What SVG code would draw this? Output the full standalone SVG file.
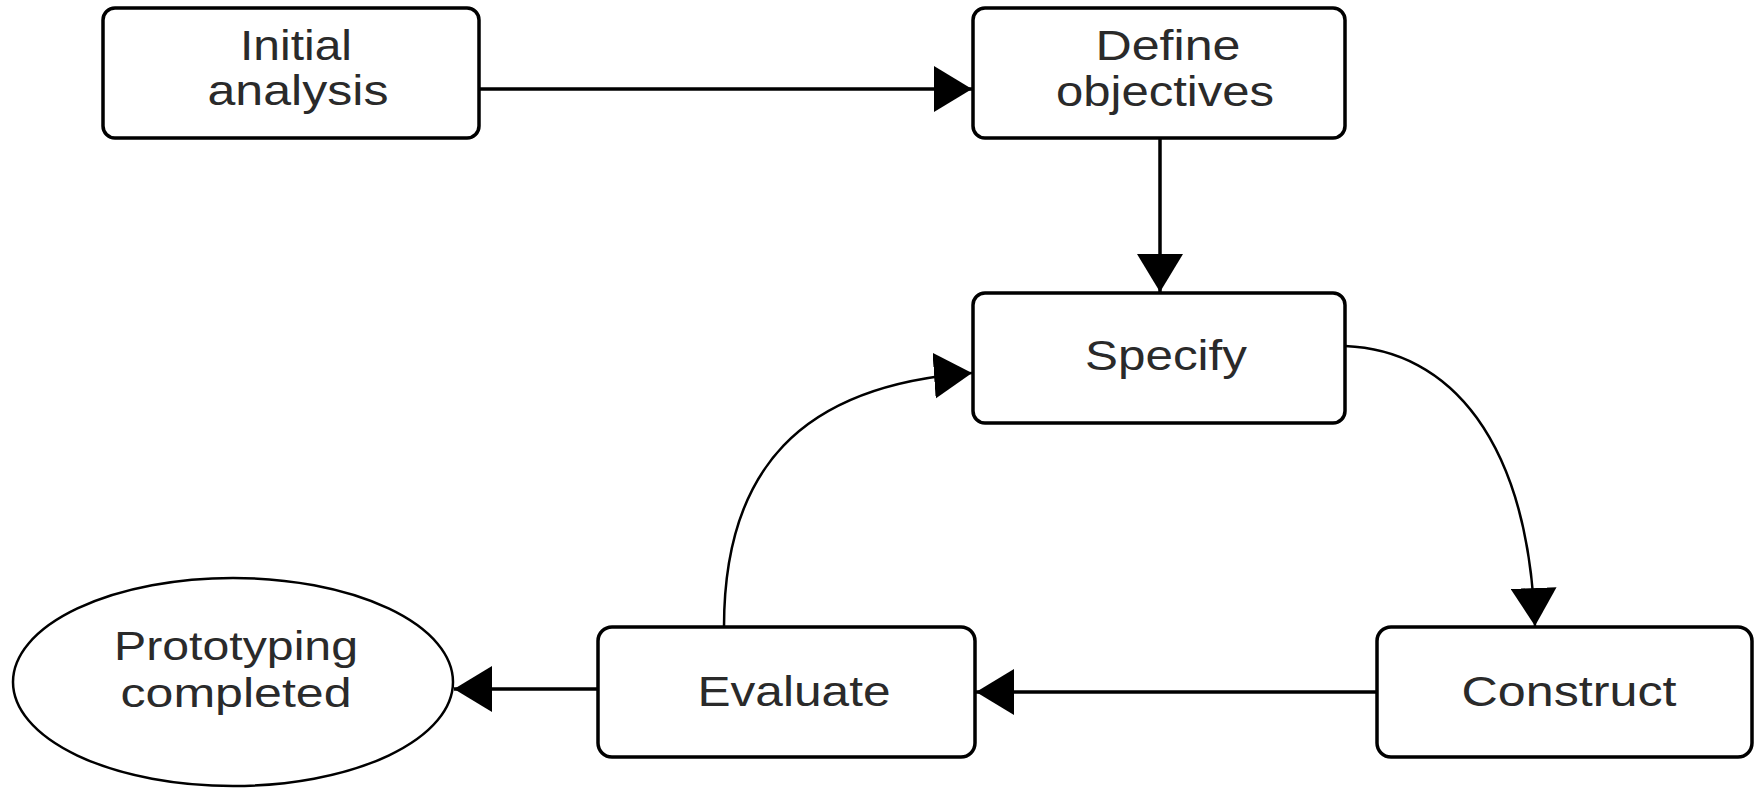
<svg xmlns="http://www.w3.org/2000/svg" width="1755" height="788" viewBox="0 0 1755 788">
  <style>
    .box { fill: #ffffff; stroke: #000000; stroke-width: 3.5; }
    .oval { fill: #ffffff; stroke: #000000; stroke-width: 2.5; }
    .lbl { font-family: "Liberation Sans", Arial, sans-serif; font-size: 42px; fill: #2a2a2a; text-anchor: middle; }
    .small { font-size: 40px; }
    .edge { fill: none; stroke: #000000; stroke-width: 3.5; }
    .curve { fill: none; stroke: #000000; stroke-width: 2.5; }
  </style>
  <defs>
    <marker id="head" markerUnits="userSpaceOnUse" markerWidth="40" markerHeight="46" viewBox="0 0 40 46" refX="38" refY="23" orient="auto">
      <path d="M0,0 L38,23 L0,46 Z" fill="#000000"/>
    </marker>
  </defs>
  <rect width="1755" height="788" fill="#ffffff"/>

  <!-- connectors -->
  <g id="connectors">
    <path class="edge" d="M479,89 L972,89" marker-end="url(#head)"/>
    <path class="edge" d="M1160,138 L1160,292" marker-end="url(#head)"/>
    <path class="curve" d="M1345,346 C1450,350 1528,440 1535,626" marker-end="url(#head)"/>
    <path class="edge" d="M1377,692 L976,692" marker-end="url(#head)"/>
    <path class="curve" d="M724,627 C724,470 800,385 972,373" marker-end="url(#head)"/>
    <path class="edge" d="M598,689 L454,689" marker-end="url(#head)"/>
  </g>

  <g id="initial-analysis">
    <rect class="box" x="103" y="8" width="376" height="130" rx="12"/>
    <text class="lbl" x="296" y="60" textLength="112" lengthAdjust="spacingAndGlyphs">Initial</text>
    <text class="lbl" x="298" y="105" textLength="181" lengthAdjust="spacingAndGlyphs">analysis</text>
  </g>

  <g id="define-objectives">
    <rect class="box" x="973" y="8" width="372" height="130" rx="12"/>
    <text class="lbl" x="1168" y="60" textLength="145" lengthAdjust="spacingAndGlyphs">Define</text>
    <text class="lbl" x="1165" y="106" textLength="218" lengthAdjust="spacingAndGlyphs">objectives</text>
  </g>

  <g id="specify">
    <rect class="box" x="973" y="293" width="372" height="130" rx="12"/>
    <text class="lbl" x="1166" y="370" textLength="162" lengthAdjust="spacingAndGlyphs">Specify</text>
  </g>

  <g id="construct">
    <rect class="box" x="1377" y="627" width="375" height="130" rx="14"/>
    <text class="lbl" x="1569" y="706" textLength="215" lengthAdjust="spacingAndGlyphs">Construct</text>
  </g>

  <g id="evaluate">
    <rect class="box" x="598" y="627" width="377" height="130" rx="14"/>
    <text class="lbl" x="794" y="706" textLength="193" lengthAdjust="spacingAndGlyphs">Evaluate</text>
  </g>

  <g id="prototyping-completed">
    <ellipse class="oval" cx="233" cy="682" rx="220" ry="104"/>
    <text class="lbl small" x="236" y="660" textLength="244" lengthAdjust="spacingAndGlyphs">Prototyping</text>
    <text class="lbl small" x="236" y="707" textLength="231" lengthAdjust="spacingAndGlyphs">completed</text>
  </g>
</svg>
